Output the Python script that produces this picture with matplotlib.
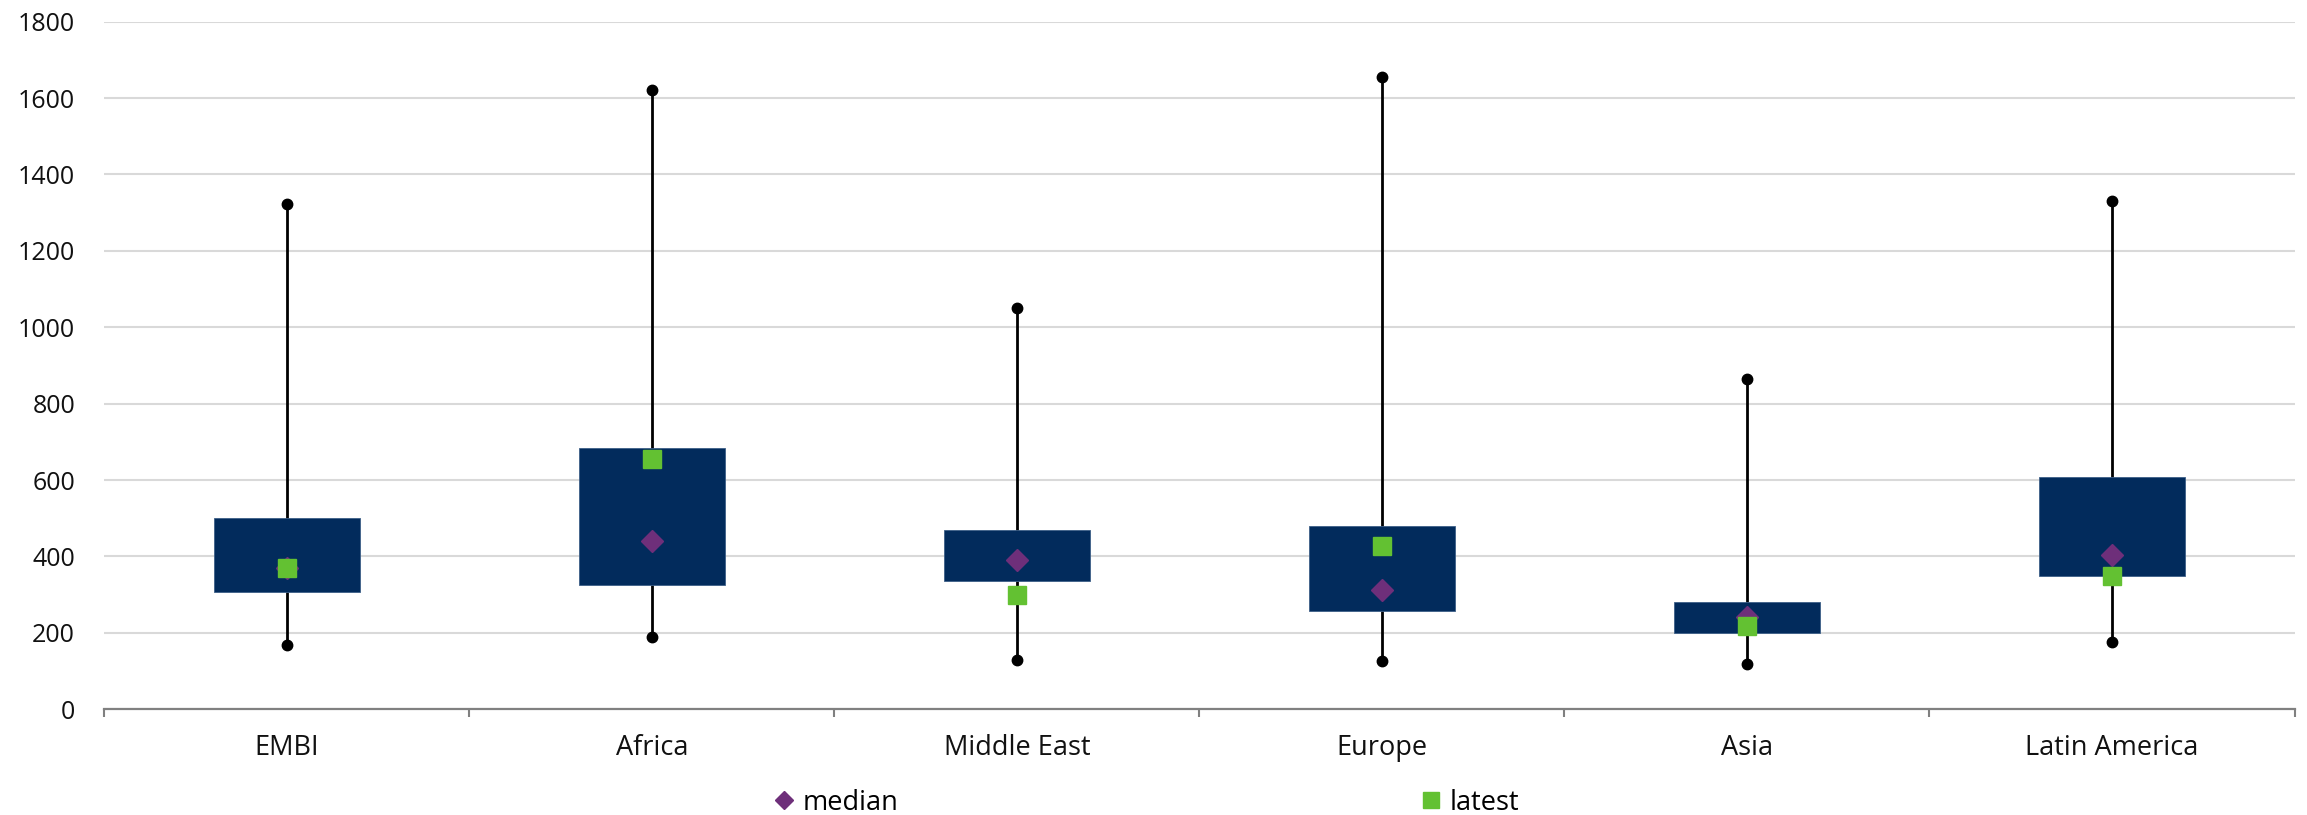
import numpy as np
import matplotlib
matplotlib.use("Agg")
import matplotlib.pyplot as plt
from matplotlib.lines import Line2D

plt.rcParams["font.family"] = ["Open Sans", "DejaVu Sans"]

# Spread ranges by region
regions = ["EMBI", "Africa", "Middle East", "Europe", "Asia", "Latin America"]
range_min = [167, 190, 130, 127, 119, 177]
range_max = [1322, 1620, 1050, 1655, 865, 1330]
box_low = [308, 325, 335, 258, 200, 348]
box_high = [502, 685, 470, 480, 280, 608]
median_vals = [369, 440, 392, 312, 242, 404]
latest_vals = [369, 655, 300, 428, 218, 350]

BOX_COLOR = "#022b5c"
MEDIAN_COLOR = "#6e2f7a"
LATEST_COLOR = "#63c132"
GRID_COLOR = "#d9d9d9"
AXIS_COLOR = "#808080"


fig = plt.figure(figsize=(23.07, 8.15), dpi=100)
ax = fig.add_axes([0.0452, 0.1297, 0.9494, 0.8437])

x = np.arange(len(regions))

# whiskers with end dots
ax.vlines(x, range_min, range_max, color="black", linewidth=2.0, zorder=2)
ax.plot(x, range_min, "o", color="black", markersize=7.5, zorder=2)
ax.plot(x, range_max, "o", color="black", markersize=7.5, zorder=2)

# boxes
ax.bar(x, np.array(box_high) - np.array(box_low), bottom=box_low, width=0.4,
       color=BOX_COLOR, edgecolor="#3d5f87", linewidth=0.6, zorder=3)

ax.plot(x, median_vals, "D", color=MEDIAN_COLOR, markersize=11.5,
        linestyle="none", zorder=4)
ax.plot(x, latest_vals, "s", color=LATEST_COLOR, markersize=13.5,
        linestyle="none", zorder=5)

ax.set_xlim(-0.5, len(regions) - 0.5)
ax.set_ylim(0, 1800)
ax.set_yticks(np.arange(0, 1801, 200))
ax.set_xticks(x)
ax.set_xticklabels(regions)
ax.set_xticks(np.arange(-0.5, len(regions), 1.0), minor=True)

ax.tick_params(axis="y", length=0, pad=21, labelsize=18, labelcolor="#111111")
ax.tick_params(axis="x", which="major", length=0, pad=18, labelsize=19.5,
               labelcolor="#111111")
ax.tick_params(axis="x", which="minor", length=6, width=1.5, color=AXIS_COLOR,
               direction="out")

ax.grid(axis="y", color=GRID_COLOR, linewidth=1.5, zorder=0)
ax.set_axisbelow(True)
for side in ["top", "right", "left"]:
    ax.spines[side].set_visible(False)
ax.spines["bottom"].set_color(AXIS_COLOR)
ax.spines["bottom"].set_linewidth(1.6)

handles = [
    Line2D([], [], marker="D", color=MEDIAN_COLOR, linestyle="none", markersize=9),
    Line2D([], [], marker="s", color=LATEST_COLOR, linestyle="none", markersize=12),
]
fig.legend(handles, ["median", "latest"], loc="center",
           bbox_to_anchor=(0.497, 0.0148), ncol=2, frameon=False, fontsize=19.5,
           handlelength=0.7, handletextpad=0.35, columnspacing=19.3,
           borderpad=0.1)

fig.savefig("out.png", dpi=100)
